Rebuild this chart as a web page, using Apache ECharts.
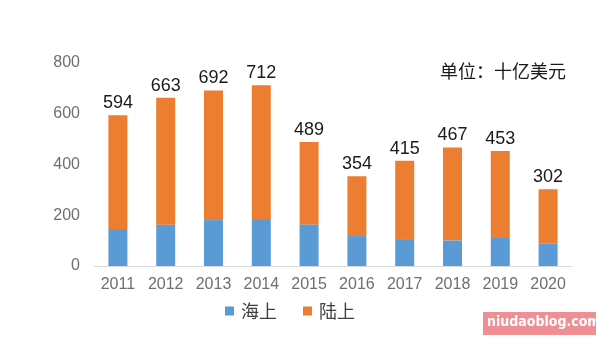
<!DOCTYPE html>
<html>
<head>
<meta charset="utf-8">
<script src="https://cdn.jsdelivr.net/npm/echarts@6/dist/echarts.min.js"></script>
<style>
  html, body { margin: 0; padding: 0; background: #fff; }
  #chart { width: 600px; height: 341px; }
</style>
</head>
<body>
<div id="chart"></div>
<script>
// Years on the category axis
const years = ['2011', '2012', '2013', '2014', '2015', '2016', '2017', '2018', '2019', '2020'];
// Total investment per year (billion USD), shown above each stack
const totals = [594, 663, 692, 712, 489, 354, 415, 467, 453, 302];
// Offshore (海上) portion
const offshore = [146, 163, 181, 185, 164, 118, 106, 101, 114, 89];
// Onshore (陆上) portion: remainder of each total
const onshore = totals.map((t, i) => t - offshore[i]);
// Value axis ticks
const yTicks = [0, 200, 400, 600, 800];

const numFont = '"Liberation Sans", Arial, sans-serif';
const cjkFont = '"Noto Sans CJK SC", sans-serif';
const chart = echarts.init(document.getElementById('chart'));
chart.setOption({
  animation: false,
  textStyle: { fontFamily: numFont },
  grid: { left: 94, right: 28, top: 63, bottom: 75 },
  legend: {
    bottom: 16,
    left: 220,
    itemWidth: 9,
    itemHeight: 9,
    itemGap: 26,
    icon: 'rect',
    textStyle: { fontSize: 18, color: '#404040', fontFamily: cjkFont, padding: [0, 0, 0, 2] },
    data: ['海上', '陆上']
  },
  xAxis: {
    type: 'category',
    data: years,
    axisLine: { lineStyle: { color: '#d9d9d9', width: 1 } },
    axisTick: { show: false },
    axisLabel: { color: '#6f6f6f', fontSize: 16, margin: 11, fontFamily: numFont }
  },
  yAxis: {
    type: 'value',
    min: yTicks[0],
    max: yTicks[yTicks.length - 1],
    interval: 200,
    splitLine: { show: false },
    axisLine: { show: false },
    axisTick: { show: false },
    axisLabel: { color: '#6f6f6f', fontSize: 16, margin: 14, fontFamily: numFont }
  },
  series: [
    {
      name: '海上',
      type: 'bar',
      stack: 'total',
      barWidth: 19,
      itemStyle: { color: '#5B9BD5' },
      data: offshore
    },
    {
      name: '陆上',
      type: 'bar',
      stack: 'total',
      barWidth: 19,
      itemStyle: { color: '#ED7D31' },
      data: onshore,
      label: {
        show: true,
        position: 'top',
        distance: 3,
        color: '#1a1a1a',
        fontSize: 18,
        fontFamily: numFont,
        formatter: p => String(totals[p.dataIndex])
      }
    }
  ],
  graphic: [
    {
      type: 'text',
      right: 34,
      top: 62,
      style: { text: '单位：十亿美元', fontSize: 18, fill: '#1a1a1a', fontFamily: cjkFont }
    },
    {
      type: 'rect',
      left: 483,
      top: 312,
      shape: { width: 113, height: 23 },
      style: { fill: '#ee8e95' }
    },
    {
      type: 'text',
      left: 487,
      top: 315,
      style: {
        text: 'niudaoblog.com', fontSize: 14, fontWeight: 'bold', fill: '#ffffff',
        fontFamily: '"DejaVu Sans Condensed", "Liberation Sans", sans-serif'
      }
    }
  ]
});
</script>
</body>
</html>
